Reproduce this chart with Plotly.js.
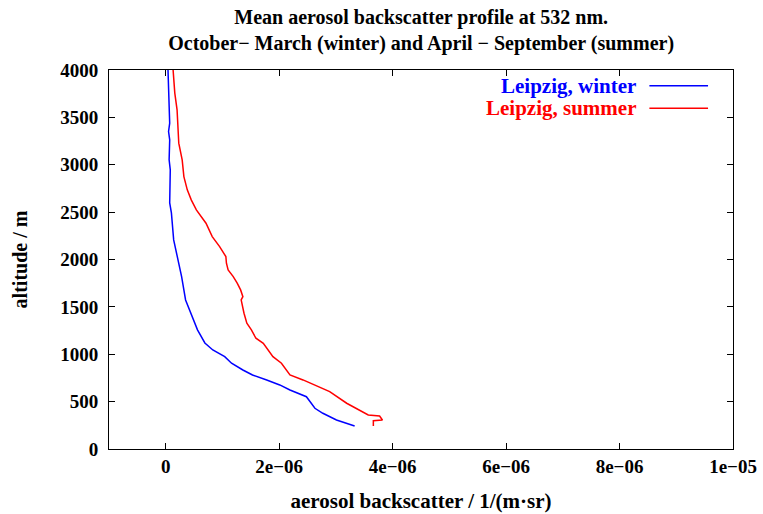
<!DOCTYPE html>
<html>
<head>
<meta charset="utf-8">
<script src="https://cdn.plot.ly/plotly-3.0.1.min.js"></script>
<style>html,body{margin:0;padding:0;background:#fff;}#chart{width:763px;height:514px;}</style>
</head>
<body>
<div id="chart"></div>
<script>
// Backscatter values in units of 1e-6 1/(m sr), altitudes in m
const winterAlt = [4000, 3756, 3509, 3439, 3351, 3263, 3052, 2946, 2598, 2492, 2207, 2101, 1996, 1820, 1573, 1257, 1119, 1045, 975, 905, 834, 781, 729, 676, 623, 552, 430, 377, 306, 243];
const winterBsc = [0.04, 0.05, 0.06, 0.07, 0.05, 0.07, 0.06, 0.08, 0.07, 0.10, 0.14, 0.18, 0.22, 0.28, 0.35, 0.56, 0.69, 0.83, 1.04, 1.16, 1.36, 1.53, 1.78, 2.01, 2.19, 2.48, 2.63, 2.77, 3.01, 3.33];
const summerAlt = [4000, 3756, 3580, 3369, 3228, 3052, 2875, 2735, 2629, 2524, 2383, 2242, 2136, 2031, 1961, 1890, 1820, 1750, 1679, 1608, 1573, 1433, 1327, 1257, 1169, 1116, 1045, 975, 905, 781, 729, 658, 605, 483, 430, 359, 348, 306, 299, 243];
const summerBsc = [0.13, 0.16, 0.20, 0.21, 0.23, 0.29, 0.32, 0.38, 0.45, 0.54, 0.71, 0.82, 0.95, 1.06, 1.07, 1.10, 1.19, 1.26, 1.32, 1.36, 1.33, 1.38, 1.43, 1.51, 1.59, 1.72, 1.80, 1.89, 2.04, 2.19, 2.42, 2.69, 2.89, 3.19, 3.36, 3.57, 3.77, 3.82, 3.66, 3.66];
const xTickVals = [0, 2e-6, 4e-6, 6e-6, 8e-6, 1e-5];
const xTickText = ["0", "2e\u221206", "4e\u221206", "6e\u221206", "8e\u221206", "1e\u221205"];
const yTickVals = [0, 500, 1000, 1500, 2000, 2500, 3000, 3500, 4000];
const yTickText = ["0", "500", "1000", "1500", "2000", "2500", "3000", "3500", "4000"];
const seriesNames = ["Leipzig, winter", "Leipzig, summer"];
const seriesColors = ["#0000ff", "#ff0000"];

const scale = v => v * 1e-6;
const F = {family: "Liberation Serif, Times New Roman, serif", size: 19, color: "#000", weight: "bold"};
const withSize = (s, extra) => Object.assign({}, F, {size: s}, extra || {});

const traces = [
  {x: winterBsc.map(scale), y: winterAlt, name: seriesNames[0], mode: "lines", line: {color: seriesColors[0], width: 1.5}, showlegend: false},
  {x: summerBsc.map(scale), y: summerAlt, name: seriesNames[1], mode: "lines", line: {color: seriesColors[1], width: 1.5}, showlegend: false}
];

const axisCommon = {showgrid: false, zeroline: false, showline: true, linecolor: "#000", linewidth: 1, mirror: "ticks", ticks: "inside", ticklen: 6, tickcolor: "#000", tickfont: F};

const legendY = [0.9586, 0.899];
const annotations = [];
const shapes = [];
seriesNames.forEach((n, i) => {
  annotations.push({xref: "paper", yref: "paper", x: 0.848, y: legendY[i], xanchor: "right", yanchor: "middle", text: n, showarrow: false, font: withSize(21, {color: seriesColors[i]})});
  shapes.push({type: "line", xref: "paper", yref: "paper", x0: 0.866, x1: 0.96, y0: legendY[i], y1: legendY[i], line: {color: seriesColors[i], width: 1.5}});
});

const layout = {
  width: 763, height: 514,
  margin: {l: 109, r: 30, t: 70, b: 65},
  paper_bgcolor: "#fff", plot_bgcolor: "#fff",
  font: F,
  title: {text: "Mean aerosol backscatter profile at 532 nm.<br>October\u2212 March (winter) and April \u2212 September (summer)", font: withSize(20), x: 0.552, xanchor: "center", yref: "container", y: 0.9533, yanchor: "middle"},
  xaxis: Object.assign({}, axisCommon, {range: [-1e-6, 1e-5], tickmode: "array", tickvals: xTickVals, ticktext: xTickText, title: {text: "aerosol backscatter / 1/(m\u00b7sr)", font: withSize(21), standoff: 17}}),
  yaxis: Object.assign({}, axisCommon, {range: [0, 4000], tickmode: "array", tickvals: yTickVals, ticktext: yTickText, ticklabelstandoff: 6, title: {text: "altitude / m", font: withSize(20), standoff: 27}}),
  annotations: annotations,
  shapes: shapes
};

Plotly.newPlot("chart", traces, layout, {displayModeBar: false, staticPlot: true});
</script>
</body>
</html>
